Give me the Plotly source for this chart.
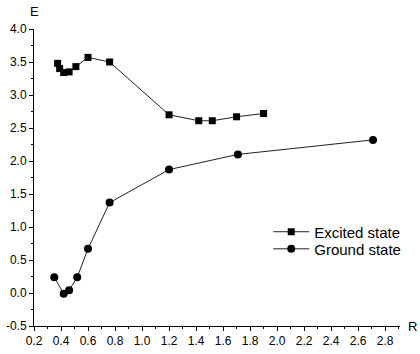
import plotly.graph_objects as go

excited_r = [0.375, 0.39, 0.42, 0.46, 0.51, 0.60, 0.76, 1.20, 1.42, 1.52, 1.70, 1.90]
excited_e = [3.48, 3.40, 3.34, 3.35, 3.43, 3.57, 3.50, 2.70, 2.61, 2.61, 2.67, 2.72]

ground_r = [0.35, 0.42, 0.46, 0.52, 0.60, 0.76, 1.20, 1.71, 2.71]
ground_e = [0.24, -0.01, 0.04, 0.24, 0.67, 1.37, 1.87, 2.10, 2.32]

x_ticks = [0.2, 0.4, 0.6, 0.8, 1.0, 1.2, 1.4, 1.6, 1.8, 2.0, 2.2, 2.4, 2.6, 2.8]
y_ticks = [-0.5, 0.0, 0.5, 1.0, 1.5, 2.0, 2.5, 3.0, 3.5, 4.0]

fig = go.Figure()
fig.add_trace(go.Scatter(
    x=excited_r, y=excited_e, mode="lines+markers", name="Excited state",
    line=dict(color="#222", width=1), legend="legend",
    marker=dict(symbol="square", size=7, color="black"),
))
fig.add_trace(go.Scatter(
    x=ground_r, y=ground_e, mode="lines+markers", name="Ground state",
    line=dict(color="#222", width=1), legend="legend2",
    marker=dict(symbol="circle", size=8, color="black"),
))

font = "Liberation Sans, Arial, sans-serif"
leg_common = dict(xanchor="left", yanchor="middle",
                  font=dict(size=15, family=font, color="black"),
                  bgcolor="rgba(0,0,0,0)", itemwidth=36, tracegroupgap=0)
fig.update_layout(
    width=420, height=354,
    margin=dict(l=34, r=20, t=29, b=28, autoexpand=False),
    paper_bgcolor="white", plot_bgcolor="white",
    font=dict(family=font, size=12, color="black"),
    showlegend=True,
    legend=dict(x=0.64, y=0.3165, **leg_common),
    legend2=dict(x=0.64, y=0.259, **leg_common),
    xaxis=dict(range=[0.2, 2.91], tickvals=x_ticks, automargin=False,
               ticktext=[f"{v:.1f}" for v in x_ticks],
               showgrid=False, zeroline=False, showline=True,
               linecolor="black", linewidth=1, ticks="outside",
               ticklen=4, tickcolor="black", tickwidth=1,
               minor=dict(dtick=0.1, tick0=0.2, ticks="outside", ticklen=2, tickcolor="black"),
               tickfont=dict(size=12, color="black")),
    yaxis=dict(range=[-0.5, 4.0], tickvals=y_ticks, automargin=False,
               ticktext=[f"{v:.1f}" for v in y_ticks],
               showgrid=False, zeroline=False, showline=True,
               linecolor="black", linewidth=1, ticks="outside",
               ticklen=4, tickcolor="black", tickwidth=1,
               minor=dict(dtick=0.25, tick0=-0.5, ticks="outside", ticklen=2, tickcolor="black"),
               tickfont=dict(size=12, color="black")),
    annotations=[
        dict(text="E", xref="paper", yref="paper", x=0, y=1, xshift=0, yshift=18,
             showarrow=False, xanchor="center", yanchor="middle",
             font=dict(size=13, color="black", family=font)),
        dict(text="R", xref="paper", yref="paper", x=1, y=0, xshift=12, yshift=0,
             showarrow=False, xanchor="center", yanchor="middle",
             font=dict(size=13, color="black", family=font)),
    ],
)

fig.write_html("out.html", config={"displayModeBar": False},
               post_script="document.body.style.margin='0';document.body.style.overflow='hidden';")
